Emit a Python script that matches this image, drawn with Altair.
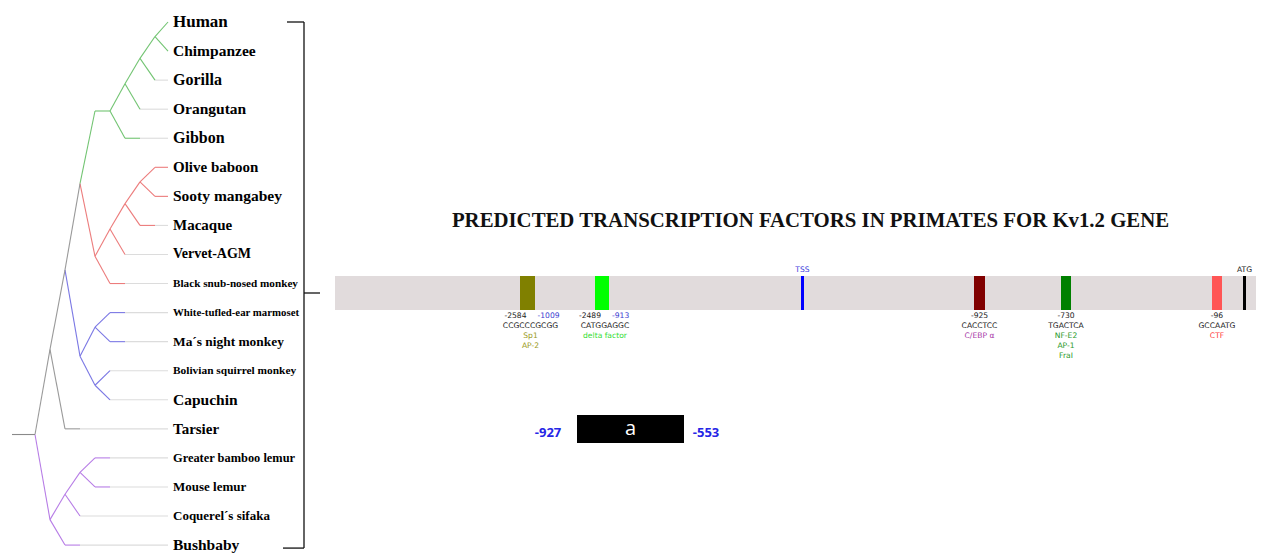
import altair as alt
import pandas as pd

W, H = 1262, 554

# ---------------- phylogeny ----------------
SPECIES = [
    "Human", "Chimpanzee", "Gorilla", "Orangutan", "Gibbon",
    "Olive baboon", "Sooty mangabey", "Macaque", "Vervet-AGM",
    "Black snub-nosed monkey", "White-tufled-ear marmoset", "Ma´s night monkey",
    "Bolivian squirrel monkey", "Capuchin", "Tarsier", "Greater bamboo lemur",
    "Mouse lemur", "Coquerel´s sifaka", "Bushbaby",
]

TREE = ("root", [
    ("Haplorhini", [
        ("Anthropoidea", [
            ("Catarrhini", [
                ("Hominoidea", [
                    ("HCGO", [("HCG", [("HC", ["Human", "Chimpanzee"]), "Gorilla"]), "Orangutan"]),
                    "Gibbon",
                ]),
                ("Cercopithecidae", [
                    ("Papionini", [("Cercopithecinae", [("OS", ["Olive baboon", "Sooty mangabey"]),
                                                        "Macaque"]), "Vervet-AGM"]),
                    "Black snub-nosed monkey",
                ]),
            ]),
            ("Platyrrhini", [
                ("MN", ["White-tufled-ear marmoset", "Ma´s night monkey"]),
                ("SC", ["Bolivian squirrel monkey", "Capuchin"]),
            ]),
        ]),
        "Tarsier",
    ]),
    ("Strepsirrhini", [
        ("Lemuroidea", [("BM", ["Greater bamboo lemur", "Mouse lemur"]), "Coquerel´s sifaka"]),
        "Bushbaby",
    ]),
])

# horizontal position of each node (internal nodes and coloured tip ends)
NODE_X = {
    "root": 35, "Haplorhini": 50, "Anthropoidea": 65, "Catarrhini": 80,
    "Hominoidea": 110, "HCGO": 125, "HCG": 140, "HC": 155,
    "Cercopithecidae": 95, "Papionini": 110, "Cercopithecinae": 125, "OS": 140,
    "Platyrrhini": 80, "MN": 95, "SC": 95,
    "Strepsirrhini": 50, "Lemuroidea": 65, "BM": 80,
    "Human": 168, "Chimpanzee": 168, "Gorilla": 155, "Orangutan": 140, "Gibbon": 140,
    "Olive baboon": 168, "Sooty mangabey": 168, "Macaque": 155, "Vervet-AGM": 125,
    "Black snub-nosed monkey": 125, "White-tufled-ear marmoset": 125,
    "Ma´s night monkey": 125, "Bolivian squirrel monkey": 110, "Capuchin": 110,
    "Tarsier": 80, "Greater bamboo lemur": 110, "Mouse lemur": 110,
    "Coquerel´s sifaka": 80, "Bushbaby": 80,
}

CLADE_COLOR = {
    "Hominoidea": "#72c472",
    "Cercopithecidae": "#ec7c7c",
    "Platyrrhini": "#7b78e4",
    "Strepsirrhini": "#b77de6",
}
BACKBONE = "#9a9a9a"
CONNECTOR = "#dcdcdc"

LABEL_SIZE = {
    "Human": 17, "Chimpanzee": 15.5, "Gorilla": 16, "Orangutan": 15.5, "Gibbon": 16,
    "Olive baboon": 15, "Sooty mangabey": 15.5, "Macaque": 15, "Vervet-AGM": 14,
    "Black snub-nosed monkey": 11.2, "White-tufled-ear marmoset": 10.8,
    "Ma´s night monkey": 13.4, "Bolivian squirrel monkey": 11.4, "Capuchin": 15.5,
    "Tarsier": 15, "Greater bamboo lemur": 12.4, "Mouse lemur": 13, "Coquerel´s sifaka": 13,
    "Bushbaby": 15.5,
}

TIP_Y0, TIP_DY, STEP, LABEL_X = 22, 29.06, 15, 168
tip_y = {name: TIP_Y0 + i * TIP_DY for i, name in enumerate(SPECIES)}

segments = []


def place(node, color):
    name, kids = node if isinstance(node, tuple) else (node, [])
    col = CLADE_COLOR.get(name, color)
    x = NODE_X[name]
    if kids:
        placed = [place(k, col) for k in kids]
        y = sum(p[1] for p in placed) / len(placed)
        for kx, ky, kcol in placed:
            knee = min(x + STEP, kx)
            segments.append(dict(x=x, y=y, x2=knee, y2=ky, c=kcol))
            if kx > knee:
                segments.append(dict(x=knee, y=ky, x2=kx, y2=ky, c=kcol))
    else:
        y = tip_y[name]
        if x < LABEL_X:
            segments.append(dict(x=x, y=y, x2=LABEL_X, y2=y, c=CONNECTOR))
    return x, y, col


root_x, root_y, _ = place(TREE, BACKBONE)
segments.append(dict(x=12, y=root_y, x2=root_x, y2=root_y, c="#8a8a8a"))

# bracket joining the species list to the promoter map
bar_top, bar_bottom = 276, 310
bar_mid = (bar_top + bar_bottom) / 2
bracket = [
    dict(x=287, y=tip_y[SPECIES[0]], x2=304, y2=tip_y[SPECIES[0]]),
    dict(x=304, y=tip_y[SPECIES[0]], x2=304, y2=tip_y[SPECIES[-1]] + 3),
    dict(x=283, y=tip_y[SPECIES[-1]] + 3, x2=304, y2=tip_y[SPECIES[-1]] + 3),
    dict(x=304, y=bar_mid, x2=320, y2=bar_mid),
]

# ---------------- promoter map ----------------
TITLE = "PREDICTED TRANSCRIPTION FACTORS IN PRIMATES FOR Kv1.2 GENE"
MAP_X = [335, 1256]

SITE_X = [520, 595, 974, 1061, 1212]
SITE_X2 = [535, 609, 985, 1071, 1222]
SITE_FILL = ["#808000", "#00ff00", "#800000", "#008000", "#ff5555"]
SITE_POS = ["-2584", "-2489", "-925", "-730", "-96"]
SITE_POS_ALT = ["-1009", "-913", "", "", ""]
SITE_SEQ = ["CCGCCCGCGG", "CATGGAGGC", "CACCTCC", "TGACTCA", "GCCAATG"]
SITE_FACTORS = [["Sp1", "AP-2"], ["delta factor"], ["C/EBP α"], ["NF-E2", "AP-1", "FraI"], ["CTF"]]
FACTOR_COLOR = ["#9a9a22", "#33dd33", "#a83aa8", "#2a9a2a", "#ff4040"]

MARKS = ["TSS", "ATG"]
MARK_X = [801, 1243]
MARK_X2 = [804, 1246]
MARK_COLOR = ["#0000ff", "#000000"]
MARK_LABEL_COLOR = ["#4040dd", "#222222"]

REGION_NAME = "a"
REGION_FROM, REGION_TO = "-927", "-553"
REGION_X = [577, 684]
REGION_Y = [415, 443]

# ---------------- tables ----------------
seg_df = pd.DataFrame(segments)
bracket_df = pd.DataFrame(bracket)
tips_df = pd.DataFrame({
    "x": [LABEL_X + 5] * len(SPECIES),
    "y": [tip_y[s] for s in SPECIES],
    "t": SPECIES,
    "fs": [LABEL_SIZE[s] for s in SPECIES],
})

rects = [dict(x=MAP_X[0], x2=MAP_X[1], y=bar_top, y2=bar_bottom, c="#e1dbdc")]
for a, b, c in zip(SITE_X, SITE_X2, SITE_FILL):
    rects.append(dict(x=a, x2=b, y=bar_top, y2=bar_bottom, c=c))
for a, b, c in zip(MARK_X, MARK_X2, MARK_COLOR):
    rects.append(dict(x=a, x2=b, y=bar_top, y2=bar_bottom, c=c))
rects.append(dict(x=REGION_X[0], x2=REGION_X[1], y=REGION_Y[0], y2=REGION_Y[1], c="#000000"))
rect_df = pd.DataFrame(rects)

small = []
for i in range(len(SITE_POS)):
    cx = (SITE_X[i] + SITE_X2[i]) / 2
    if SITE_POS_ALT[i]:
        small.append(dict(x=cx - 1, y=316, t=SITE_POS[i], c="#1a1a1a", a="right"))
        small.append(dict(x=cx + 10, y=316, t=SITE_POS_ALT[i], c="#3a3ad0", a="left"))
        seq_x = cx + 3
    else:
        small.append(dict(x=cx, y=316, t=SITE_POS[i], c="#1a1a1a", a="center"))
        seq_x = cx
    small.append(dict(x=seq_x, y=326, t=SITE_SEQ[i], c="#1a1a1a", a="center"))
    for k, f in enumerate(SITE_FACTORS[i]):
        small.append(dict(x=seq_x, y=336 + 10 * k, t=f, c=FACTOR_COLOR[i], a="center"))
for i, m in enumerate(MARKS):
    small.append(dict(x=(MARK_X[i] + MARK_X2[i]) / 2, y=270, t=m, c=MARK_LABEL_COLOR[i], a="center"))
small_df = pd.DataFrame(small)

region_df = pd.DataFrame({
    "x": [REGION_X[0] - 29, REGION_X[1] + 22],
    "y": [433, 433],
    "t": [REGION_FROM, REGION_TO],
})
region_name_df = pd.DataFrame({"x": [(REGION_X[0] + REGION_X[1]) / 2],
                               "y": [(REGION_Y[0] + REGION_Y[1]) / 2], "t": [REGION_NAME]})
title_df = pd.DataFrame({"x": [810.5], "y": [220.5], "t": [TITLE]})

# ---------------- chart ----------------
XS = alt.Scale(domain=[0, W], nice=False, zero=False)
YS = alt.Scale(domain=[0, H], nice=False, zero=False, reverse=True)


def xy():
    return dict(x=alt.X("x:Q", scale=XS, axis=None), y=alt.Y("y:Q", scale=YS, axis=None))


tree = alt.Chart(seg_df).mark_rule(strokeWidth=1.1).encode(
    **xy(), x2="x2:Q", y2="y2:Q", color=alt.Color("c:N", scale=None))

brk = alt.Chart(bracket_df).mark_rule(strokeWidth=1.3, color="#111111").encode(
    **xy(), x2="x2:Q", y2="y2:Q")

tips = alt.Chart(tips_df).mark_text(
    font="Liberation Serif", fontWeight="bold", align="left", baseline="middle", color="#000000"
).encode(**xy(), text="t:N", size=alt.Size("fs:Q", scale=None))

boxes = alt.Chart(rect_df).mark_rect().encode(
    **xy(), x2="x2:Q", y2="y2:Q", color=alt.Color("c:N", scale=None))

layers = [tree, brk, tips, boxes]
for align in ["left", "center", "right"]:
    sub = small_df[small_df["a"] == align]
    layers.append(alt.Chart(sub).mark_text(
        font="DejaVu Sans", fontSize=7.6, align=align, baseline="middle"
    ).encode(**xy(), text="t:N", color=alt.Color("c:N", scale=None)))

layers.append(alt.Chart(region_df).mark_text(
    font="Open Sans", fontSize=13, fontWeight="bold", align="center", baseline="middle",
    color="#2626e6").encode(**xy(), text="t:N"))
layers.append(alt.Chart(region_name_df).mark_text(
    font="Open Sans", fontSize=20, align="center", baseline="middle", color="#ffffff"
).encode(**xy(), text="t:N"))
layers.append(alt.Chart(title_df).mark_text(
    font="Liberation Serif", fontSize=20.8, fontWeight="bold", align="center", baseline="middle",
    color="#111111").encode(**xy(), text="t:N"))

chart = alt.layer(*layers).properties(
    width=W, height=H, padding=0, autosize="none", background="#ffffff"
).configure_view(stroke=None)

chart.save("out.html", embed_options={"renderer": "svg", "actions": False})
